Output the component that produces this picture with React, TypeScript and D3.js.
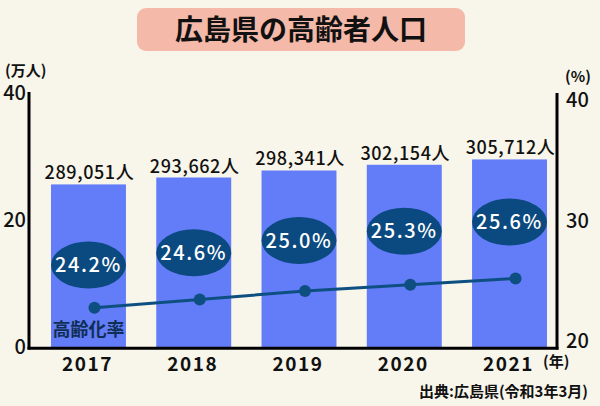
import React from 'react';
import * as d3 from 'd3';

const years = ['2017', '2018', '2019', '2020', '2021'];
const population = [289051, 293662, 298341, 302154, 305712];
const agingRate = [24.2, 24.6, 25.0, 25.3, 25.6];
const leftTicks = [0, 20, 40];
const rightTicks = [20, 30, 40];
const titleText = '広島県の高齢者人口';
const sourceText = '出典:広島県(令和3年3月)';

const W = 600;
const H = 406;
const FONT = '"Noto Sans CJK JP", "Noto Sans", sans-serif';
const BG = '#f8f5ea';
const BAR = '#637cf8';
const NAVY = '#0b4a80';
const LINE = '#0e4f82';

export default function App() {
  const x = d3
    .scaleBand<string>()
    .domain(years)
    .range([36, 562])
    .paddingInner(0.288)
    .paddingOuter(0.1425);
  const bw = x.bandwidth();
  const cx = (y: string) => (x(y) as number) + bw / 2;

  const yBar = d3.scaleLinear().domain([180000, 350000]).range([348, 93]);
  const yLine = d3.scaleLinear().domain([20, 30]).range([396, 186]);
  const yBadge = d3.scaleLinear().domain([20, 30]).range([394, 87]);
  const yLeftAxis = d3.scaleLinear().domain([0, 40]).range([347, 93]);
  const yRightAxis = d3.scaleLinear().domain([20, 40]).range([341, 100]);

  const fmt = d3.format(',');

  const linePath = d3
    .line<number>()
    .x((_, i) => cx(years[i]) + 6)
    .y((d) => yLine(d))(agingRate) as string;

  return (
    <div style={{ position: 'fixed', left: 0, top: 0, width: W, height: H }}>
      <svg width={W} height={H} style={{ display: 'block', fontFamily: FONT }}>
        <rect x={0} y={0} width={W} height={H} fill={BG} />

        {/* title */}
        <rect x={137} y={8} width={328} height={43} rx={9} fill="#f4b9a8" />
        <text x={301} y={40} textAnchor="middle" fontSize={28} fontWeight={700} fill="#111">
          {titleText}
        </text>

        {/* unit labels */}
        <text x={5} y={76} fontSize={15} fontWeight={700} fill="#111">(万人)</text>
        <text x={578} y={82} textAnchor="middle" fontSize={15} fontWeight={700} fill="#111">(%)</text>

        {/* bars */}
        {years.map((yr, i) => (
          <rect
            key={'b' + yr}
            x={x(yr)}
            y={yBar(population[i])}
            width={bw}
            height={yBar(180000) - yBar(population[i])}
            fill={BAR}
          />
        ))}

        {/* value labels */}
        {years.map((yr, i) => (
          <text
            key={'v' + yr}
            x={cx(yr) + 1}
            y={yBar(population[i]) - 5}
            textAnchor="middle"
            fontSize={18}
            fontWeight={500}
            letterSpacing={0.6}
            fill="#111"
          >
            {fmt(population[i]) + '人'}
          </text>
        ))}

        {/* rate badges */}
        {years.map((yr, i) => (
          <g key={'e' + yr}>
            <ellipse cx={cx(yr)} cy={yBadge(agingRate[i])} rx={bw / 2} ry={23.5} fill={NAVY} />
            <text
              x={cx(yr)}
              y={yBadge(agingRate[i])}
              dy="0.36em"
              textAnchor="middle"
              fontSize={20}
              fontWeight={500}
              letterSpacing={1.6}
              fill="#fff"
            >
              {agingRate[i].toFixed(1) + '%'}
            </text>
          </g>
        ))}

        {/* rate line */}
        <path d={linePath} fill="none" stroke={LINE} strokeWidth={3} />
        {years.map((yr, i) => (
          <circle key={'c' + yr} cx={cx(yr) + 6} cy={yLine(agingRate[i])} r={6} fill={LINE} />
        ))}
        <text x={cx(years[0])} y={330} dy="0.36em" textAnchor="middle" fontSize={18} fontWeight={700} fill="#0f2f55">
          高齢化率
        </text>

        {/* axes */}
        <line x1={29} x2={29} y1={92} y2={349.5} stroke="#000" strokeWidth={3} />
        <line x1={27.5} x2={558.5} y1={348.3} y2={348.3} stroke="#000" strokeWidth={3} />
        <line x1={557} x2={557} y1={93} y2={349.5} stroke="#000" strokeWidth={3} />

        {leftTicks.map((t) => (
          <text key={'l' + t} x={26} y={yLeftAxis(t)} dy="0.36em" textAnchor="end" fontSize={20} fontWeight={500} fill="#111">
            {t}
          </text>
        ))}
        {rightTicks.map((t) => (
          <text key={'r' + t} x={566} y={yRightAxis(t)} dy="0.36em" textAnchor="start" fontSize={20} fontWeight={500} fill="#111">
            {t}
          </text>
        ))}

        {years.map((yr) => (
          <text key={'x' + yr} x={cx(yr) - 1} y={371} textAnchor="middle" fontSize={19} fontWeight={700} letterSpacing={1.5} fill="#111">
            {yr}
          </text>
        ))}
        <text x={543} y={367} fontSize={15} fontWeight={700} fill="#111">(年)</text>

        <text x={588} y={397} textAnchor="end" fontSize={15} fontWeight={700} fill="#111">
          {sourceText}
        </text>
      </svg>
    </div>
  );
}
